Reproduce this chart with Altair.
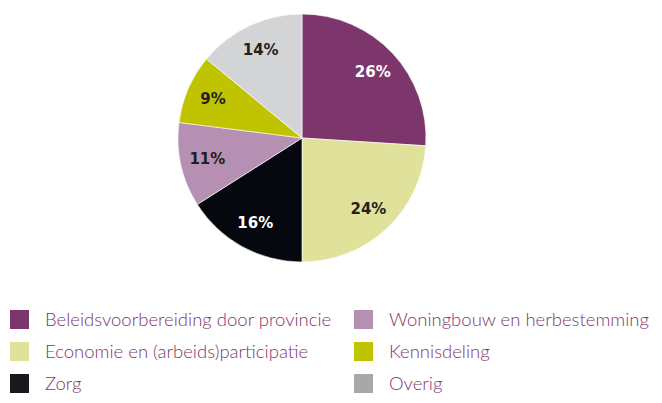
import altair as alt
import pandas as pd

categories = ["Beleidsvoorbereiding door provincie", "Economie en (arbeids)participatie",
              "Zorg", "Woningbouw en herbestemming", "Kennisdeling", "Overig"]
values = [26, 24, 16, 11, 9, 14]
slice_colors = ["#7d366c", "#e0e29b", "#05080f", "#b690b3", "#c0c400", "#d3d4d6"]
label_colors = ["#ffffff", "#231f20", "#ffffff", "#231f20", "#231f20", "#231f20"]
legend_colors = ["#7d366c", "#e0e29b", "#1a181c", "#b690b3", "#c0c400", "#a8a8a8"]

df = pd.DataFrame({
    "categorie": categories,
    "waarde": values,
    "volgorde": list(range(len(categories))),
    "kleur": slice_colors,
    "tekstkleur": label_colors,
    "label": [f"{v}%" for v in values],
})

CX, CY, R = 294, 130, 124

base = alt.Chart(df).encode(
    theta=alt.Theta("waarde:Q", stack=True),
    order=alt.Order("volgorde:Q", sort="ascending"),
)

arcs = base.mark_arc(outerRadius=R, stroke="#ffffff", strokeWidth=0.6).encode(
    color=alt.Color("kleur:N", scale=None),
    x=alt.value(CX), y=alt.value(CY),
)

labels = base.mark_text(radius=97, font="DejaVu Sans", fontWeight="bold", fontSize=15).encode(
    text="label:N",
    color=alt.Color("tekstkleur:N", scale=None),
    x=alt.value(CX), y=alt.value(CY),
)

legend_layer = alt.Chart(df).mark_square(opacity=0, size=1).encode(
    fill=alt.Fill(
        "categorie:N",
        scale=alt.Scale(domain=categories, range=legend_colors),
        legend=alt.Legend(
            title=None, orient="none", legendX=2, legendY=302, columns=2,
            symbolType="square", symbolSize=361, symbolOpacity=1, symbolStrokeWidth=0,
            labelFont="Lato", labelFontWeight=300, labelFontSize=18.5, labelColor="#7d366c",
            labelOffset=16, rowPadding=13, columnPadding=22, labelLimit=500,
        ),
    ),
    x=alt.value(0), y=alt.value(0),
)

chart = alt.layer(arcs, labels, legend_layer).properties(
    width=646, height=387, padding=0,
    autosize=alt.AutoSizeParams(type="none"),
).configure_view(stroke=None)

chart.save("out.html", embed_options={"renderer": "svg", "actions": False})
